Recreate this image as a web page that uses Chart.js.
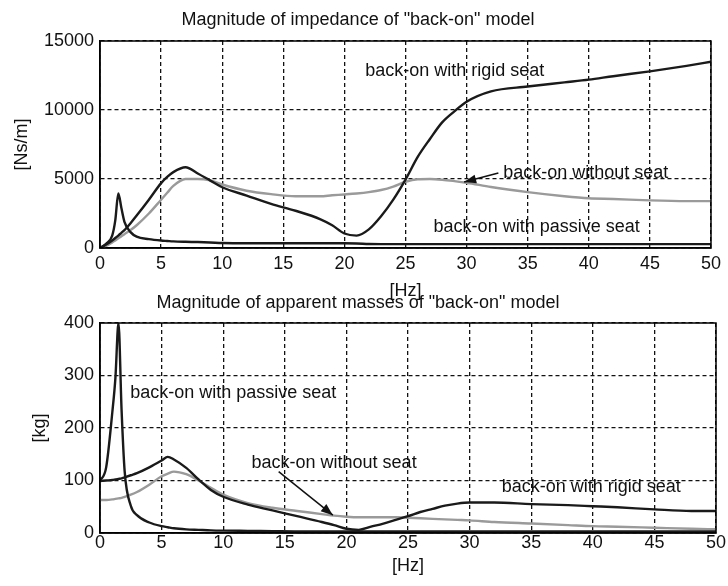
<!DOCTYPE html>
<html>
<head>
<meta charset="utf-8">
<script src="https://cdn.jsdelivr.net/npm/chart.js@4.4.1/dist/chart.umd.min.js"></script>
<style>
  body { margin: 0; background: #fff; }
  .box { position: absolute; left: 0; }
  #top { top: 0; }
  #bottom { top: 290px; }
</style>
</head>
<body>
<div class="box" id="top"><canvas id="impedance" width="728" height="300"></canvas></div>
<div class="box" id="bottom"><canvas id="mass" width="728" height="296"></canvas></div>
<script>
// frequencies [Hz] shared by all curves
const freqHz = [0, 0.5, 1, 1.25, 1.5, 1.75, 2, 2.5, 3, 4, 5, 5.5, 6, 7, 8, 9, 10, 12, 14, 16, 18,
  19, 20, 21, 22, 23, 24, 25, 26, 27, 28, 29, 30, 32, 35, 38, 40, 42, 45, 48, 50];

// impedance [Ns/m]
const impRigid = [0, 250, 550, 720, 900, 1100, 1300, 1800, 2350, 3500, 4700, 5150, 5500, 5850, 5400, 4900, 4400, 3800, 3200, 2700, 2100,
  1650, 1050, 900, 1350, 2300, 3500, 4950, 6600, 7900, 9100, 9900, 10600, 11350, 11700, 12000, 12200, 12450, 12800, 13200, 13500];
const impNoSeat = [0, 150, 400, 550, 700, 850, 1000, 1300, 1650, 2500, 3500, 4000, 4500, 5000, 5000, 4900, 4600, 4150, 3900, 3750, 3750,
  3820, 3880, 3950, 4050, 4200, 4450, 4800, 4980, 5000, 4950, 4850, 4730, 4420, 4050, 3750, 3600, 3550, 3450, 3400, 3400];
const impPassive = [0, 300, 900, 2000, 3950, 2900, 1900, 1150, 820, 640, 540, 510, 480, 450, 430, 400, 360, 340, 340, 340, 340,
  340, 340, 330, 290, 280, 280, 280, 280, 280, 280, 280, 280, 280, 280, 280, 280, 280, 280, 280, 280];

// apparent mass [kg]
const massRigid = [99, 100, 101, 102, 103, 104, 106, 110, 114, 125, 138, 145, 140, 124, 102, 82, 69, 54, 43, 32, 21,
  15, 8, 6, 12, 18, 25, 32, 40, 46, 52, 56, 58, 58, 55, 53, 51, 49, 45, 42, 42];
const massNoSeat = [63, 63, 64, 65, 66, 67, 69, 73, 78, 92, 108, 113, 117, 112, 100, 86, 73, 57, 48, 42, 36,
  33, 31, 30, 30, 30, 30, 29, 28, 27, 26, 25, 24, 21, 18, 15, 13, 12, 10, 8, 7];
const massPassive = [99, 125, 230, 295, 400, 235, 118, 52, 34, 20, 13, 11, 9, 7, 6, 5, 4.5, 4, 3.5, 3, 3,
  3, 3, 3, 3, 3, 3, 3, 3, 3, 3, 3, 3, 3, 3, 3, 3, 3, 3, 3, 3];

const xTicks = [0, 5, 10, 15, 20, 25, 30, 35, 40, 45, 50];

const FONT = '"Liberation Sans", Arial, sans-serif';
const BLACK = '#1a1a1a';
const GREY = '#9a9a9a';

function pts(vals) {
  return freqHz.map((f, i) => ({ x: f, y: vals[i] }));
}

function line(label, vals, color) {
  return {
    label: label,
    data: pts(vals),
    borderColor: color,
    borderWidth: 2.4,
    pointRadius: 0,
    fill: false,
    cubicInterpolationMode: 'monotone'
  };
}

// labels, arrows and the full box round the plot
const notes = {
  id: 'notes',
  afterDatasetsDraw(chart, args, opts) {
    const ctx = chart.ctx;
    const sx = chart.scales.x, sy = chart.scales.y;
    const a = chart.chartArea;
    ctx.save();
    ctx.strokeStyle = '#000';
    ctx.lineWidth = 1.5;
    ctx.strokeRect(a.left, a.top, a.right - a.left, a.bottom - a.top);

    ctx.fillStyle = '#111';
    ctx.font = '18px ' + FONT;
    ctx.textBaseline = 'middle';
    ctx.textAlign = 'left';
    (opts.labels || []).forEach(l => {
      ctx.fillText(l.text, sx.getPixelForValue(l.x), sy.getPixelForValue(l.y));
    });

    (opts.arrows || []).forEach(ar => {
      const x1 = sx.getPixelForValue(ar.from[0]), y1 = sy.getPixelForValue(ar.from[1]);
      const x2 = sx.getPixelForValue(ar.to[0]), y2 = sy.getPixelForValue(ar.to[1]);
      const ang = Math.atan2(y2 - y1, x2 - x1);
      ctx.strokeStyle = '#111';
      ctx.lineWidth = 1.5;
      ctx.beginPath();
      ctx.moveTo(x1, y1);
      ctx.lineTo(x2, y2);
      ctx.stroke();
      ctx.beginPath();
      ctx.moveTo(x2, y2);
      ctx.lineTo(x2 - 12 * Math.cos(ang) + 4.5 * Math.sin(ang), y2 - 12 * Math.sin(ang) - 4.5 * Math.cos(ang));
      ctx.lineTo(x2 - 12 * Math.cos(ang) - 4.5 * Math.sin(ang), y2 - 12 * Math.sin(ang) + 4.5 * Math.cos(ang));
      ctx.closePath();
      ctx.fill();
    });
    ctx.restore();
  }
};

function makeOptions(cfg) {
  return {
    responsive: false,
    animation: false,
    layout: { padding: { left: 0, right: 12, top: 0, bottom: 0 } },
    plugins: {
      legend: { display: false },
      tooltip: { enabled: false },
      title: {
        display: true,
        text: cfg.title,
        color: '#111',
        font: { family: FONT, size: 18, weight: 'normal', lineHeight: 1 },
        padding: cfg.titlePad
      },
      notes: { labels: cfg.labels, arrows: cfg.arrows }
    },
    scales: {
      x: {
        type: 'linear',
        min: 0,
        max: 50,
        afterBuildTicks: s => { s.ticks = xTicks.map(v => ({ value: v })); },
        afterFit: s => { s.height = cfg.xHeight; },
        ticks: {
          color: '#111',
          padding: cfg.xTickPad,
          maxRotation: 0,
          callback: v => String(v),
          font: { family: FONT, size: 18, lineHeight: 1 }
        },
        grid: { color: '#111', lineWidth: 1.3, drawTicks: false },
        border: { display: true, color: '#000', width: 1.5, dash: [4, 3] },
        title: {
          display: true,
          text: '[Hz]',
          color: '#111',
          font: { family: FONT, size: 18, lineHeight: 1 },
          padding: { top: 0, bottom: cfg.xTitlePad }
        }
      },
      y: {
        min: 0,
        max: cfg.yMax,
        afterBuildTicks: s => { s.ticks = cfg.yTicks.map(v => ({ value: v })); },
        afterFit: s => { s.width = 100; },
        ticks: {
          color: '#111',
          padding: 6,
          callback: v => String(v),
          font: { family: FONT, size: 18, lineHeight: 1 }
        },
        grid: { color: '#111', lineWidth: 1.3, drawTicks: false },
        border: { display: true, color: '#000', width: 1.5, dash: [4, 3] },
        title: {
          display: true,
          text: cfg.yTitle,
          color: '#111',
          font: { family: FONT, size: 18, lineHeight: 1 },
          padding: { top: cfg.yTitlePad, bottom: 0 }
        }
      }
    }
  };
}

new Chart(document.getElementById('impedance'), {
  type: 'line',
  data: {
    datasets: [
      line('back-on with rigid seat', impRigid, BLACK),
      line('back-on with passive seat', impPassive, BLACK),
      line('back-on without seat', impNoSeat, GREY)
    ]
  },
  options: makeOptions({
    title: 'Magnitude of impedance of "back-on" model',
    titlePad: { top: 11, bottom: 12 },
    xHeight: 52,
    xTickPad: 7,
    xTitlePad: 0,
    yMax: 15000,
    yTicks: [0, 5000, 10000, 15000],
    yTitle: '[Ns/m]',
    yTitlePad: 13,
    labels: [
      { text: 'back-on with rigid seat', x: 21.7, y: 12800 },
      { text: 'back-on without seat', x: 33.0, y: 5450 },
      { text: 'back-on with passive seat', x: 27.3, y: 1520 }
    ],
    arrows: [
      { from: [32.6, 5430], to: [29.8, 4780] }
    ]
  }),
  plugins: [notes]
});

new Chart(document.getElementById('mass'), {
  type: 'line',
  data: {
    datasets: [
      line('back-on with rigid seat', massRigid, BLACK),
      line('back-on with passive seat', massPassive, BLACK),
      line('back-on without seat', massNoSeat, GREY)
    ]
  },
  options: makeOptions({
    title: 'Magnitude of apparent masses of "back-on" model',
    titlePad: { top: 4, bottom: 11 },
    xHeight: 53,
    xTickPad: 1,
    xTitlePad: 11,
    yMax: 400,
    yTicks: [0, 100, 200, 300, 400],
    yTitle: '[kg]',
    yTitlePad: 31,
    labels: [
      { text: 'back-on with passive seat', x: 2.45, y: 267 },
      { text: 'back-on without seat', x: 12.3, y: 133 },
      { text: 'back-on with rigid seat', x: 32.6, y: 88 }
    ],
    arrows: [
      { from: [14.5, 117], to: [18.9, 34] }
    ]
  }),
  plugins: [notes]
});
</script>
</body>
</html>
